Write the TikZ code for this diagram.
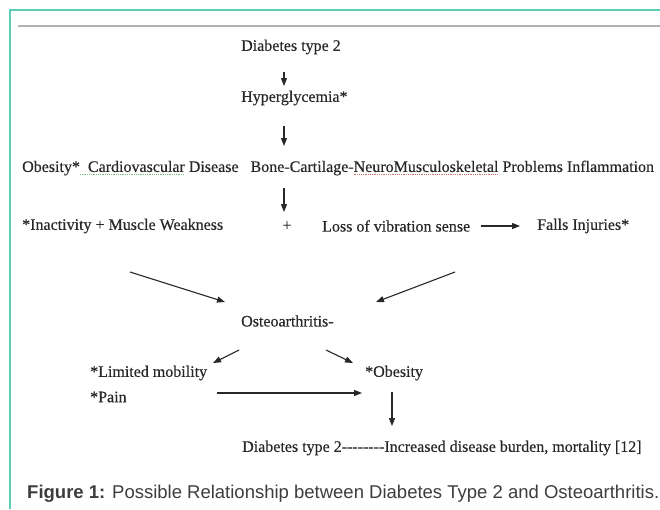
\documentclass[tikz,border=0pt]{standalone}
\usepackage{fontspec}
\setmainfont{Liberation Serif}
\newfontfamily\scanfont[FakeBold=0.35]{Liberation Serif}
\newfontfamily\capfont{Liberation Sans}
\usetikzlibrary{arrows.meta}
\definecolor{frameteal}{RGB}{94,205,184}
\definecolor{rulegray}{RGB}{178,178,178}
\definecolor{inkgray}{RGB}{40,40,40}
\definecolor{gramgreen}{RGB}{120,190,120}
\definecolor{spellred}{RGB}{215,110,110}
\newsavebox\markbox
\newcommand\dotmark[2]{\sbox\markbox{#2}\rlap{#2}\raisebox{-0.35ex}{\textcolor{#1}{\hbox to \wd\markbox{\xleaders\hbox{\rule{1pt}{0.7pt}\kern0.8pt}\hfill}}}}
\begin{document}
\begin{tikzpicture}[x=1pt,y=-1pt,
    txt/.style={inner sep=0pt,anchor=west,text=inkgray,font=\scanfont\fontsize{16}{18}\selectfont},
    arr/.style={-{Triangle[length=8pt,width=6pt]},line width=1.1pt,draw=inkgray}]
  \useasboundingbox[fill=white] (0,0) rectangle (660,509);
  % frame
  \draw[frameteal,line width=1.6pt] (10,509) -- (10,10) -- (660,10);
  \draw[rulegray,line width=2pt] (18,26) -- (660,26);
  % chain of boxes
  \draw
    (241,47) node[txt] (dt1){Diabetes type 2}
    (241,98) node[txt] (hyper){Hyperglycemia*}
    (22,168) node[txt] (probs){Obesity*\dotmark{gramgreen}{\ \ Cardiovascular} Disease\ \ \ Bone-Cartilage-\dotmark{spellred}{NeuroMusculoskeletal} Problems Inflammation}
    (22,226) node[txt] (inact){*Inactivity + Muscle Weakness}
    (287,226) node[txt,anchor=center] (plus){+}
    (322,226) node[txt] (loss){Loss of vibration sense}
    (537,226) node[txt] (falls){Falls Injuries*}
    (241,321) node[txt] (osteo){Osteoarthritis-}
    (90,373) node[txt] (limit){*Limited mobility}
    (365,373) node[txt] (obes){*Obesity}
    (90,397) node[txt] (pain){*Pain}
    (242,448) node[txt] (burden){Diabetes type 2-{}-{}-{}-{}-{}-{}-{}-Increased disease burden, mortality [12]}
    (27,494) node[txt,font=\capfont\fontsize{18.5}{21}\selectfont,text=inkgray!90] (caption){\textbf{Figure 1:} Possible Relationship between Diabetes Type 2 and Osteoarthritis.};
  % arrow ends
  \coordinate (a1s) at (284,72);  \coordinate (a1e) at (284,86);
  \coordinate (a2s) at (284,126); \coordinate (a2e) at (284,146);
  \coordinate (a3s) at (284,188); \coordinate (a3e) at (284,212);
  \coordinate (a4s) at (481,226); \coordinate (a4e) at (520,226);
  \coordinate (a5s) at (130,272); \coordinate (a5e) at (225,302);
  \coordinate (a6s) at (455,272); \coordinate (a6e) at (376,302);
  \coordinate (a7s) at (239,350); \coordinate (a7e) at (213,363);
  \coordinate (a8s) at (326,350); \coordinate (a8e) at (353,363);
  \coordinate (a9s) at (217,393); \coordinate (a9e) at (362,393);
  \coordinate (a10s) at (392,392); \coordinate (a10e) at (392,426);
  \begin{scope}[arr]
    \draw (a1s) to (a1e);
    \draw (a2s) to (a2e);
    \draw (a3s) to (a3e);
    \draw (a4s) to (a4e);
    \draw (a5s) to (a5e);
    \draw (a6s) to (a6e);
    \draw (a7s) to (a7e);
    \draw (a8s) to (a8e);
    \draw (a9s) to (a9e);
    \draw (a10s) to (a10e);
  \end{scope}
\end{tikzpicture}
\end{document}
